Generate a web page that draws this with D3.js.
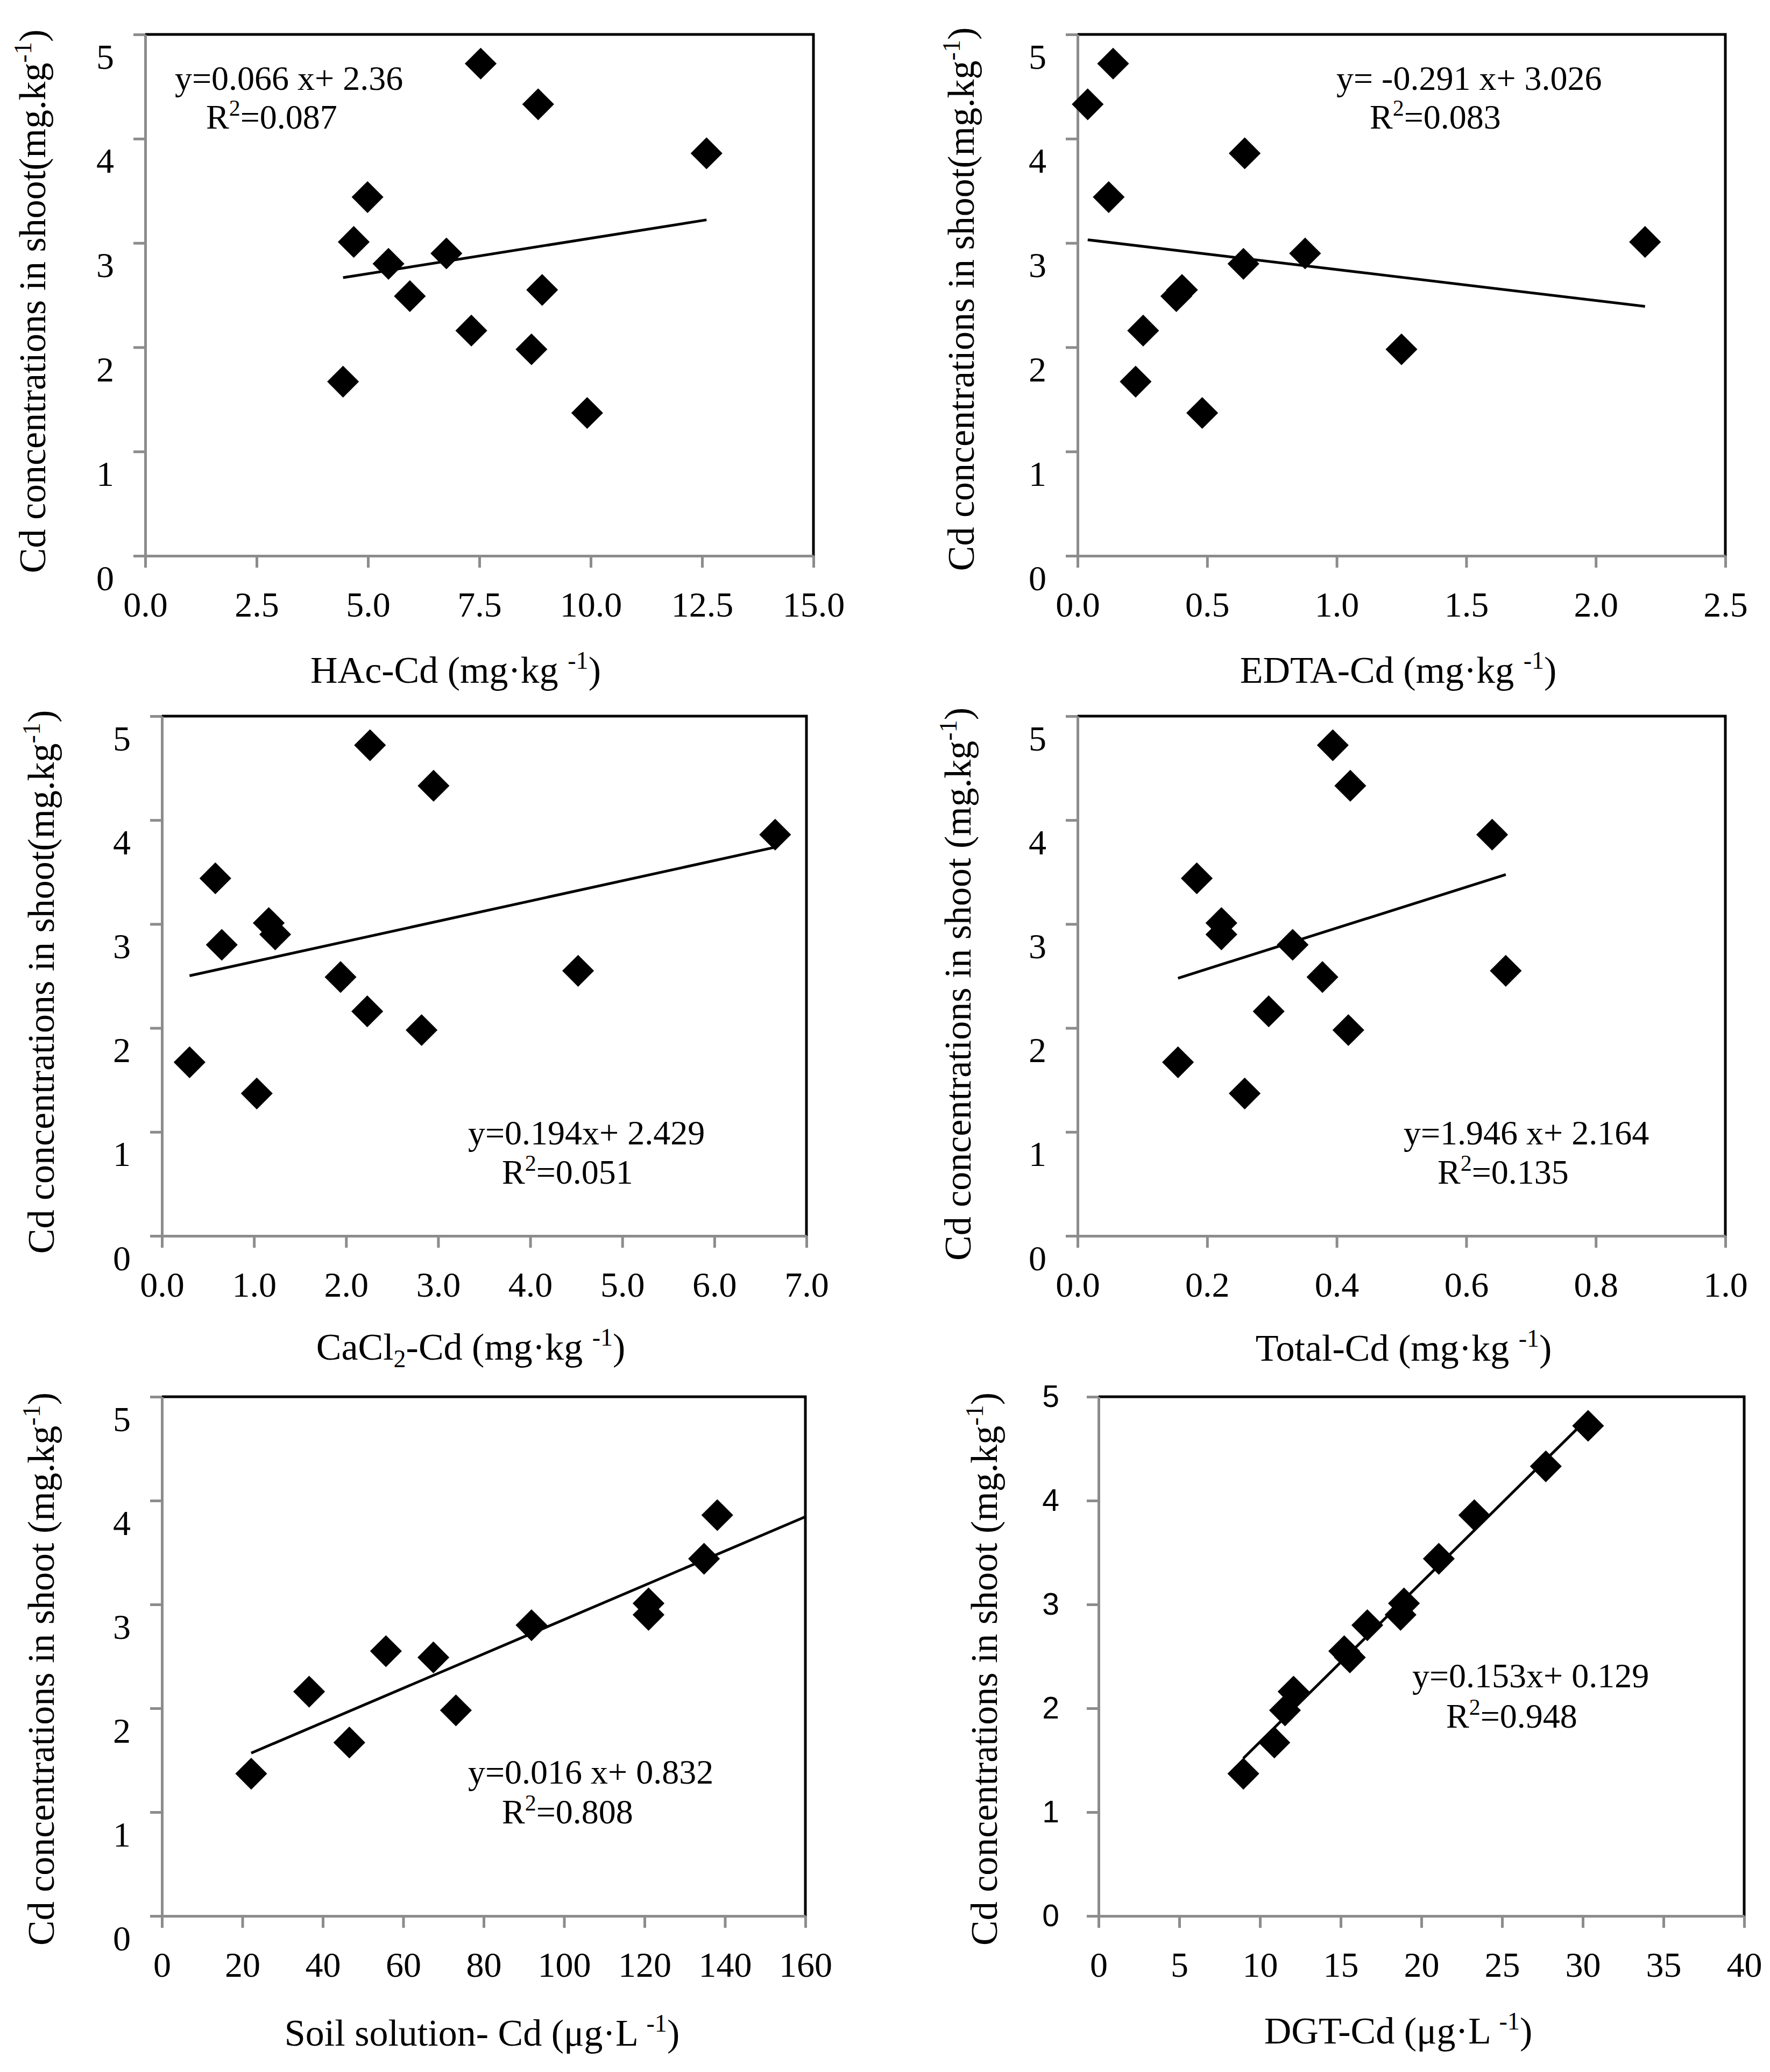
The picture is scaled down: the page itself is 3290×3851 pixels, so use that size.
<!DOCTYPE html>
<html>
<head>
<meta charset="utf-8">
<script src="https://cdn.jsdelivr.net/npm/d3@7"></script>
<style>
  body { margin: 0; background: #fff; }
  svg text { font-family: "Liberation Serif", "Times New Roman", serif; fill: #000; }
  svg text.sans { font-family: "Liberation Sans", Arial, sans-serif; }
</style>
</head>
<body>
<svg id="chart"></svg>
<script>
// shoot Cd of the 13 pots, same order in every x array below
const shootCd = [1.37, 1.67, 1.98, 2.16, 2.49, 2.55, 2.80, 2.90, 3.01, 3.44, 3.86, 4.33, 4.72];

const hacCd   = [9.92, 4.44, 8.67, 7.32, 5.94, 8.91, 5.46, 6.76, 4.68, 4.99, 12.6, 8.82, 7.53];
const edtaCd  = [0.481, 0.224, 1.25, 0.253, 0.381, 0.403, 0.64, 0.878, 2.19, 0.12, 0.645, 0.039, 0.137];
const cacl2Cd = [1.03, 0.30, 2.82, 2.23, 1.94, 4.52, 0.65, 1.23, 1.16, 0.58, 6.66, 2.95, 2.26];
const totalCd = [0.258, 0.155, 0.418, 0.295, 0.378, 0.661, 0.332, 0.222, 0.222, 0.184, 0.640, 0.421, 0.394];
const soilCd  = [22.2, 46.6, 73.1, 36.6, 67.5, 55.7, 91.9, 121.0, 121.0, 134.8, 138.1, null, null];
const dgtCd   = [8.97, 10.89, 11.55, 12.08, 15.57, 15.22, 16.65, 18.71, 18.92, 21.08, 23.28, 27.71, 30.33];

const yTicks = [0, 1, 2, 3, 4, 5];
const hacTicks   = [0, 2.5, 5, 7.5, 10, 12.5, 15];
const edtaTicks  = [0, 0.5, 1, 1.5, 2, 2.5];
const cacl2Ticks = [0, 1, 2, 3, 4, 5, 6, 7];
const totalTicks = [0, 0.2, 0.4, 0.6, 0.8, 1.0];
const soilTicks  = [0, 20, 40, 60, 80, 100, 120, 140, 160];
const dgtTicks   = [0, 5, 10, 15, 20, 25, 30, 35, 40];

const equations = ["y=0.066 x+ 2.36", "y= -0.291 x+ 3.026", "y=0.194x+ 2.429",
                   "y=1.946 x+ 2.164", "y=0.016 x+ 0.832", "y=0.153x+ 0.129"];
const rSquared  = ["0.087", "0.083", "0.051", "0.135", "0.808", "0.948"];

const W = 3290, H = 3851;

const svg = d3.select("#chart")
  .attr("width", W)
  .attr("height", H)
  .style("background", "#fff");

// x-axis titles: plain text + superscript (1) / subscript (-1) pieces
const xTitles = [
  [["HAc-Cd (mg·kg ", 0], ["-1", 1], [")", 0]],
  [["EDTA-Cd (mg·kg ", 0], ["-1", 1], [")", 0]],
  [["CaCl", 0], ["2", -1], ["-Cd (mg·kg ", 0], ["-1", 1], [")", 0]],
  [["Total-Cd (mg·kg ", 0], ["-1", 1], [")", 0]],
  [["Soil solution- Cd (μg·L ", 0], ["-1", 1], [")", 0]],
  [["DGT-Cd (μg·L ", 0], ["-1", 1], [")", 0]]
];

// yt = [baseline x of the rotated title, centre y, text]
let panels = [
  { x: hacCd,   max: 15,  ticks: hacTicks,   fmt: ".1f", box: [270, 64, 1512, 1033],
    yt: [84, 560, "shoot(mg.kg"],    xt: [847, 1245],  eq: [325, 145, 383, 217] },
  { x: edtaCd,  max: 2.5, ticks: edtaTicks,  fmt: ".1f", box: [2003, 64, 3207, 1033],
    yt: [1810, 556, "shoot(mg.kg"],  xt: [2599, 1245], eq: [2484, 145, 2546, 217] },
  { x: cacl2Cd, max: 7,   ticks: cacl2Ticks, fmt: ".1f", box: [301, 1331, 1499, 2297],
    yt: [100, 1825, "shoot(mg.kg"],  xt: [875, 2503],  eq: [870, 2105, 933, 2178] },
  { x: totalCd, max: 1,   ticks: totalTicks, fmt: ".1f", box: [2003, 1331, 3207, 2297],
    yt: [1804, 1829, "shoot (mg.kg"], xt: [2609, 2505], eq: [2609, 2105, 2672, 2178] },
  { x: soilCd,  max: 160, ticks: soilTicks,  fmt: "d",   box: [301, 2596, 1497, 3561],
    yt: [100, 3102, "shoot (mg.kg"], xt: [896, 3778],  eq: [870, 3293, 933, 3367], trendToMax: true },
  { x: dgtCd,   max: 40,  ticks: dgtTicks,   fmt: "d",   box: [2042, 2596, 3242, 3561],
    yt: [1853, 3102, "shoot (mg.kg"], xt: [2599, 3774], eq: [2625, 3114, 2688, 3189], sansY: true }
];

// least squares line through the points of one panel
let fitLine = (pts) => {
  let mx = d3.mean(pts, d => d[0]);
  let my = d3.mean(pts, d => d[1]);
  let sxy = d3.sum(pts, d => (d[0] - mx) * (d[1] - my));
  let sxx = d3.sum(pts, d => (d[0] - mx) * (d[0] - mx));
  let slope = sxy / sxx;
  return { slope: slope, intercept: my - slope * mx };
};

let diamond = d3.symbol().type(d3.symbolSquare).size(1750);

panels.forEach((p, i) => {
  let [x0, y0, x1, y1] = p.box;
  let w = x1 - x0, h = y1 - y0;

  let x = d3.scaleLinear().domain([0, p.max]).range([0, w]);
  let y = d3.scaleLinear().domain([0, 5]).range([h, 0]);

  let g = svg.append("g")
    .attr("transform", `translate(${x0}, ${y0})`)
    .attr("class", "panel");

  // black frame on top and right
  g.append("path")
    .attr("d", `M0,0H${w}V${h}`)
    .attr("fill", "none")
    .attr("stroke", "#000")
    .attr("stroke-width", 5);

  // x axis
  let xAxis = g.append("g")
    .attr("transform", `translate(0, ${h})`)
    .call(d3.axisBottom(x)
      .tickValues(p.ticks)
      .tickFormat(d3.format(p.fmt))
      .tickSize(22)
      .tickSizeOuter(0)
      .tickPadding(44));

  // y axis
  let yAxis = g.append("g")
    .call(d3.axisLeft(y)
      .tickValues(yTicks)
      .tickFormat(d3.format("d"))
      .tickSize(22)
      .tickSizeOuter(0)
      .tickPadding(p.sansY ? 51 : 36));

  [xAxis, yAxis].forEach(a => {
    a.attr("font-family", null);
    a.select(".domain").attr("stroke", "#8c8c8c").attr("stroke-width", 5);
    a.selectAll(".tick line").attr("stroke", "#8c8c8c").attr("stroke-width", 5);
    a.selectAll("text").style("font-size", "66px");
  });

  if (p.sansY) {
    yAxis.selectAll("text").attr("class", "sans").style("font-size", "57px");
  } else {
    // the exported labels sit a bit below their ticks
    yAxis.selectAll("text").attr("y", 42);
  }

  // points
  let pts = p.x.map((v, k) => [v, shootCd[k]]).filter(d => d[0] != null);

  // trend line
  let fit = fitLine(pts);
  let xmin = d3.min(pts, d => d[0]);
  let xmax = p.trendToMax ? p.max : d3.max(pts, d => d[0]);
  g.append("line")
    .attr("x1", x(xmin))
    .attr("y1", y(fit.slope * xmin + fit.intercept))
    .attr("x2", x(xmax))
    .attr("y2", y(fit.slope * xmax + fit.intercept))
    .attr("stroke", "#000")
    .attr("stroke-width", 5);

  g.selectAll("path.pt")
    .data(pts)
    .enter()
    .append("path")
    .attr("class", "pt")
    .attr("d", diamond)
    .attr("fill", "#000")
    .attr("transform", d => `translate(${x(d[0])}, ${y(d[1])}) rotate(45)`);

  // equation + R2
  svg.append("text")
    .attr("x", p.eq[0])
    .attr("y", p.eq[1] + 22)
    .style("font-size", "64px")
    .text(equations[i]);

  let r2 = svg.append("text")
    .attr("x", p.eq[2])
    .attr("y", p.eq[3] + 22)
    .style("font-size", "64px");
  r2.append("tspan").text("R");
  r2.append("tspan").attr("dy", -24).style("font-size", "42px").text("2");
  r2.append("tspan").attr("dy", 24).text("=" + rSquared[i]);

  // y title
  let yt = svg.append("text")
    .attr("transform", `translate(${p.yt[0]}, ${p.yt[1]}) rotate(-90)`)
    .attr("text-anchor", "middle")
    .style("font-size", "70px");
  yt.append("tspan").text("Cd concentrations in " + p.yt[2]);
  yt.append("tspan").attr("dy", -26).style("font-size", "46px").text("-1");
  yt.append("tspan").attr("dy", 26).text(")");

  // x title
  let xt = svg.append("text")
    .attr("x", p.xt[0])
    .attr("y", p.xt[1] + 24)
    .attr("text-anchor", "middle")
    .style("font-size", "70px");
  let shift = 0;
  xTitles[i].forEach(([t, s]) => {
    let dy = s === 1 ? -26 : s === -1 ? 14 : 0;
    xt.append("tspan")
      .attr("dy", dy - shift)
      .style("font-size", s === 0 ? "70px" : "46px")
      .text(t);
    shift = dy;
  });
});
</script>
</body>
</html>
